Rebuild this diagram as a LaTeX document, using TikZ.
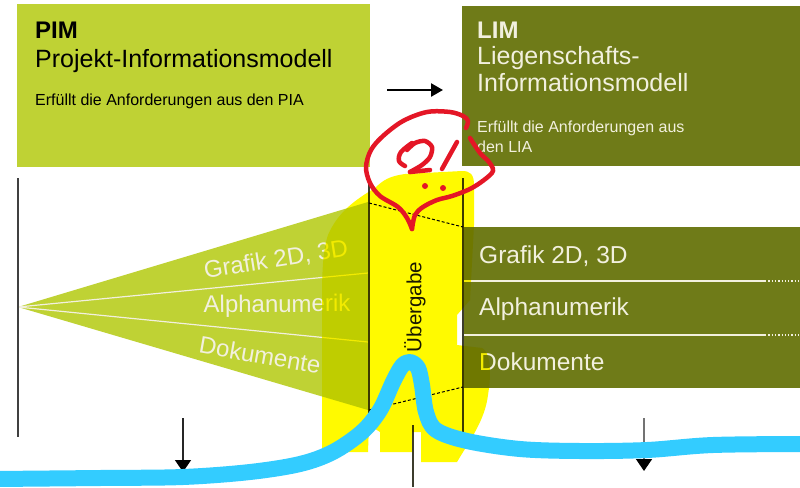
\documentclass[tikz,border=0pt]{standalone}
\usepackage{fontspec}
\setmainfont{Liberation Sans}
\usetikzlibrary{arrows.meta}

\definecolor{pimgreen}{RGB}{191,210,52}
\definecolor{limolive}{RGB}{111,123,24}
\definecolor{cream}{RGB}{242,240,222}
\definecolor{hiyellow}{RGB}{255,250,0}
\definecolor{penred}{RGB}{228,22,38}
\definecolor{penblue}{RGB}{51,204,255}
\definecolor{rulegray}{RGB}{60,60,45}

\tikzset{
  panel/.style={draw=none, inner sep=0pt, anchor=north west},
  head/.style={anchor=base west, inner sep=0pt, font=\fontsize{24}{28}\selectfont\bfseries},
  big/.style={anchor=base west, inner sep=0pt, font=\fontsize{25}{28}\selectfont},
  small/.style={anchor=base west, inner sep=0pt, font=\fontsize{16}{19}\selectfont},
  rowtext/.style={anchor=base west, inner sep=0pt, text=cream, font=\fontsize{24.5}{28}\selectfont},
  fantext/.style={anchor=center, inner sep=0pt, text=cream, font=\fontsize{24}{28}\selectfont},
  colline/.style={draw=rulegray, line width=1.3pt},
  downarrow/.style={line width=1.5pt, -{Triangle[width=16pt,length=12pt,fill=black,color=black]}},
  pen/.style={draw=penred, line width=4.5pt, line cap=round, line join=round},
  marker/.style={draw=penblue, line width=16pt, line cap=round, line join=round}
}

\begin{document}
\begin{tikzpicture}[x=1pt,y=-1pt]
\fill[white] (0,0) rectangle (800,487);
\useasboundingbox (0,0) rectangle (800,487);

% ---- PIM panel
\node[panel, fill=pimgreen, minimum width=353pt, minimum height=163pt] (pim) at (17,4) {};
\node[head] (pimA) at (35,38) {PIM};
\node[big] (pimB) at (35,67) {Projekt-Informationsmodell};
\node[small] (pimC) at (35,105) {Erfüllt die Anforderungen aus den PIA};

% ---- LIM panel
\node[panel, fill=limolive, minimum width=338pt, minimum height=160pt] (lim) at (462,6) {};
\node[head, text=cream] (limA) at (477,38) {LIM};
\node[big, text=cream] (limB) at (477,65) {Liegenschafts-};
\node[big, text=cream] (limC) at (477,92) {Informationsmodell};
\node[small, text=cream] (limD) at (477,132) {Erfüllt die Anforderungen aus};
\node[small, text=cream] (limE) at (477,152) {den LIA};

% ---- arrow between the panels
\coordinate (arrS) at (387,90);
\coordinate (arrE) at (443,90);
\draw[black, line width=2.5pt, -{Triangle[width=13pt,length=12pt]}] (arrS) -- (arrE);

% ---- fan of the project model
\coordinate (apex) at (18,307);
\coordinate (fanTop) at (368,202);
\coordinate (fanBot) at (368,410);
\coordinate (fanM1) at (368,273);
\coordinate (fanM2) at (368,342);
\fill[pimgreen] (apex) -- (fanTop) -- (fanBot) -- cycle;
\draw[cream, line width=1.2pt] (apex) -- (fanM1);
\draw[cream, line width=1.2pt] (apex) -- (fanM2);
\node[fantext, rotate=9] (fanA) at (276,260) {Grafik 2D, 3D};
\node[fantext, rotate=0.5] (fanB) at (277,306) {Alphanumerik};
\node[fantext, rotate=-10] (fanC) at (260,355) {Dokumente};

% ---- rows of the property model
\node[panel, fill=limolive, minimum width=337pt, minimum height=161pt] (rows) at (463,227) {};
\draw[cream, line width=1.3pt] (463,281) -- (765,281);
\draw[cream, line width=1.3pt, dotted] (765,281) -- (800,281);
\draw[cream, line width=1.3pt] (463,335) -- (765,335);
\draw[cream, line width=1.3pt, dotted] (765,335) -- (800,335);
\node[rowtext] (rowA) at (479,263) {Grafik 2D, 3D};
\node[rowtext] (rowB) at (479,315) {Alphanumerik};
\node[rowtext] (rowC) at (479,370) {Dokumente};

% ---- handover column
\coordinate (cL1) at (369,182);
\coordinate (cL2) at (369,413);
\coordinate (cR1) at (463,178);
\coordinate (cR2) at (463,435);
\coordinate (cM1) at (413,425);
\coordinate (cM2) at (413,487);
\draw[colline] (cL1) -- (cL2);
\draw[colline] (cR1) -- (cR2);
\draw[colline] (cM1) -- (cM2);
\draw[black, line width=1pt, dash pattern=on 3pt off 2pt] (369,203) -- (463,227);
\draw[black, line width=1pt, dash pattern=on 3pt off 2pt] (369,410) -- (463,387);
\node[anchor=center, inner sep=0pt, rotate=90, text=black!90, font=\fontsize{20.5}{24}\selectfont] (handover) at (415,307) {Übergabe};

% ---- time axis and down arrows
\coordinate (axT) at (18,178);
\coordinate (axB) at (18,437);
\draw[draw=black!75, line width=1.6pt] (axT) -- (axB);
\coordinate (d1S) at (183,418);
\coordinate (d1E) at (183,472);
\coordinate (d2S) at (644,418);
\coordinate (d2E) at (644,471);
\draw[downarrow, draw=black!85] (d1S) -- (d1E);
\draw[downarrow, draw=black!55] (d2S) -- (d2E);

% ---- highlighter over the handover column
\begin{scope}[blend mode=multiply]
\fill[hiyellow]
  (322,300) -- (322,452) -- (368,452) -- (369,425) -- (380,432) -- (380,452)
  -- (412,452) -- (412,432) -- (421,432) -- (421,462) -- (457,462)
  .. controls (470,440) and (485,420) .. (488,395)
  .. controls (492,370) and (490,352) .. (482,348)
  -- (457,345) -- (457,315) -- (470,300) -- (474,225) -- (474,185)
  .. controls (474,174) and (470,171) .. (462,171)
  -- (405,174)
  .. controls (390,176) and (383,180) .. (375,188)
  .. controls (355,200) and (338,212) .. (328,235)
  .. controls (323,250) and (322,270) .. cycle;
\end{scope}

% ---- red speech bubble with "?!"
\draw[pen] plot[smooth, tension=0.55] coordinates {
  (466,128) (468,121) (463,116) (450,112) (427,112) (403,121) (383,136)
  (371,150) (366,167) (370,183) (380,196) (398,207) (407,218) (412,229)};
\draw[pen] plot[smooth, tension=0.55] coordinates {
  (412,229) (415,215) (423,207) (437,200) (452,196) (470,189) (484,180)
  (493,171) (489,162) (480,153) (470,138)};
\draw[pen] plot[smooth, tension=0.6] coordinates {(412,143) (401,152) (399,161) (405,166)};
\draw[pen] plot[smooth, tension=0.5] coordinates {
  (407,150) (415,143) (425,141) (432,147) (430,157) (422,165) (410,172)};
\draw[pen] (410,172) -- (420,171) -- (430,170);
\draw[pen] (457,142) -- (442,169);
\fill[penred] (425,186) circle (3pt);
\fill[penred] (443,188) circle (3pt);

% ---- blue marker line
\draw[marker] plot[smooth, tension=0.55] coordinates {
  (-5,479) (100,478) (183,477) (250,472) (300,464) (333,452) (362,432)
  (380,410) (393,382) (402,366) (410,362) (418,368) (422,385) (426,412)
  (436,430) (467,441) (520,449) (580,451) (647,450) (713,445) (805,444)};
\end{tikzpicture}
\end{document}
